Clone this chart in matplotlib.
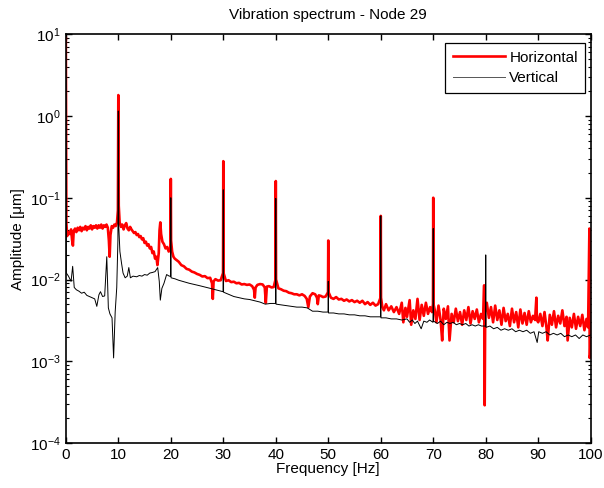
import numpy as np
import matplotlib
matplotlib.use("Agg")
from matplotlib import pyplot as plt
from matplotlib.ticker import LogLocator, NullFormatter

# Horizontal direction spectrum (frequency [Hz], amplitude [um])
h_freq = [0.0, 0.1, 0.25, 0.5, 0.75, 1.0, 1.2, 1.35, 1.5, 1.75, 2.0, 2.25, 2.5, 2.75, 3.0,
          3.25, 3.5, 3.75, 4.0, 4.25, 4.5, 4.75, 5.0, 5.25, 5.5, 5.75, 6.0, 6.25, 6.5,
          6.75, 7.0, 7.25, 7.5, 7.75, 8.0, 8.2, 8.35, 8.5, 8.75, 9.0, 9.25, 9.5, 9.75, 9.92,
          10.0, 10.08, 10.25, 10.5, 10.75, 11.0, 11.25, 11.5, 11.75, 12.0, 12.25, 12.5, 12.75, 13.0,
          13.25, 13.5, 13.75, 14.0, 14.25, 14.5, 14.75, 15.0, 15.25, 15.5, 15.75, 16.0, 16.25, 16.5,
          16.75, 17.0, 17.25, 17.45, 17.7, 17.85, 18.0, 18.15, 18.4, 18.7, 19.0, 19.3, 19.6, 19.85,
          19.95, 20.0, 20.05, 20.25, 20.5, 20.75, 21.0, 21.5, 22.0, 22.5, 23.0, 23.5, 24.0, 24.5,
          25.0, 25.5, 26.0, 26.5, 27.0, 27.5, 27.85, 28.0, 28.15, 28.5, 29.0, 29.5, 29.95, 30.0, 30.05,
          30.5, 31.0, 31.5, 32.0, 32.5, 33.0, 33.5, 34.0, 34.5, 35.0, 35.5, 35.85, 36.0, 36.15, 36.5,
          37.0, 37.5, 37.9, 38.1, 38.3, 38.7, 39.2, 39.6, 39.95, 40.0, 40.05, 40.5, 41.0, 41.5,
          42.0, 42.5, 43.0, 43.5, 44.0, 44.5, 45.0, 45.5, 45.9, 46.2, 46.5, 47.0, 47.5, 47.85, 48.0, 48.2,
          48.6, 49.0, 49.5, 49.95, 50.0, 50.05, 50.5, 51.0, 51.5, 52.0, 52.5, 53.0, 53.5, 54.0,
          54.5, 55.0, 55.5, 56.0, 56.5, 57.0, 57.5, 58.0, 58.5, 59.0, 59.5, 59.95, 60.0, 60.05,
          60.3, 60.6, 61.0, 61.5, 62.0, 62.5, 63.0, 63.5, 64.0, 64.3, 64.7, 65.0, 65.5, 65.8,
          66.2, 66.6, 67.0, 67.4, 67.8, 68.2, 68.6, 69.0, 69.4, 69.75, 69.95, 70.0, 70.05, 70.3,
          70.6, 71.0, 71.4, 71.7, 72.0, 72.4, 72.8, 73.1, 73.5, 73.9, 74.3, 74.7, 75.1, 75.5,
          75.9, 76.3, 76.7, 77.1, 77.5, 77.9, 78.3, 78.7, 79.1, 79.5, 79.7, 79.8, 79.9, 80.2,
          80.6, 81.0, 81.4, 81.8, 82.2, 82.6, 83.0, 83.4, 83.8, 84.2, 84.6, 85.0, 85.4, 85.8,
          86.2, 86.6, 87.0, 87.4, 87.8, 88.2, 88.6, 89.0, 89.4, 89.65, 89.75, 90.0, 90.4, 90.8,
          91.2, 91.6, 91.8, 92.2, 92.6, 93.0, 93.4, 93.8, 94.2, 94.6, 95.0, 95.4, 95.6, 96.0,
          96.4, 96.8, 97.2, 97.6, 98.0, 98.4, 98.8, 99.2, 99.5, 99.75, 99.8, 99.9, 100.0]
h_amp = [9.0, 0.05, 0.034, 0.038, 0.036, 0.041, 0.030, 0.026, 0.039, 0.042, 0.038, 0.043, 0.040, 0.044, 0.039,
         0.043, 0.041, 0.045, 0.040, 0.044, 0.042, 0.046, 0.041, 0.045, 0.043, 0.046, 0.042, 0.046, 0.043,
         0.047, 0.042, 0.046, 0.044, 0.047, 0.043, 0.030, 0.019, 0.035, 0.045, 0.043, 0.047, 0.045, 0.050, 0.07,
         1.8, 0.08, 0.050, 0.044, 0.047, 0.041, 0.046, 0.049, 0.042, 0.040, 0.044, 0.041, 0.039, 0.037,
         0.038, 0.035, 0.036, 0.033, 0.034, 0.031, 0.032, 0.028, 0.029, 0.026, 0.027, 0.024, 0.025, 0.021,
         0.022, 0.018, 0.019, 0.015, 0.021, 0.040, 0.050, 0.036, 0.029, 0.027, 0.024, 0.025, 0.022, 0.023,
         0.03, 0.17, 0.03, 0.022, 0.019, 0.018, 0.0175, 0.0165, 0.015, 0.0145, 0.0135, 0.0132, 0.0125, 0.0122,
         0.0117, 0.0114, 0.0109, 0.0110, 0.0104, 0.0105, 0.0090, 0.0058, 0.0095, 0.0101, 0.0097, 0.0098, 0.012, 0.28, 0.012,
         0.0096, 0.0098, 0.0093, 0.0094, 0.0090, 0.0091, 0.0087, 0.0088, 0.0086, 0.0087, 0.0083, 0.0075, 0.0060, 0.0080, 0.0086,
         0.0088, 0.0087, 0.0080, 0.0052, 0.0082, 0.0083, 0.0080, 0.0081, 0.010, 0.16, 0.010, 0.0078, 0.0076, 0.0073,
         0.0072, 0.0069, 0.0068, 0.0066, 0.0066, 0.0064, 0.0066, 0.0063, 0.0058, 0.0046, 0.0062, 0.0068, 0.0066, 0.0060, 0.0050, 0.0064,
         0.0063, 0.0061, 0.0062, 0.007, 0.030, 0.007, 0.0060, 0.0058, 0.0061, 0.0057, 0.0058, 0.0055, 0.0057, 0.0054,
         0.0056, 0.0053, 0.0055, 0.0052, 0.0055, 0.0050, 0.0053, 0.0049, 0.0052, 0.0048, 0.0050, 0.006, 0.060, 0.006,
         0.0046, 0.0042, 0.0050, 0.0042, 0.0047, 0.0040, 0.0046, 0.0038, 0.0052, 0.0030, 0.0045, 0.0035, 0.0056, 0.0028,
         0.0042, 0.0033, 0.0058, 0.0032, 0.0049, 0.0036, 0.0052, 0.0038, 0.0046, 0.0040, 0.005, 0.10, 0.005, 0.0042,
         0.0030, 0.0048, 0.0032, 0.0018, 0.0044, 0.0033, 0.0047, 0.0018, 0.0038, 0.0030, 0.0044, 0.0031, 0.0040, 0.0028,
         0.0042, 0.0032, 0.0046, 0.0029, 0.0041, 0.0033, 0.0043, 0.0030, 0.0038, 0.0033, 0.0085, 0.00029, 0.0040, 0.0052,
         0.0034, 0.0046, 0.0030, 0.0048, 0.0032, 0.0042, 0.0028, 0.0045, 0.0031, 0.0038, 0.0027, 0.0044, 0.0030, 0.0040,
         0.0026, 0.0043, 0.0029, 0.0039, 0.0028, 0.0041, 0.0030, 0.0036, 0.0032, 0.0060, 0.0032, 0.0030, 0.0038, 0.0027,
         0.0040, 0.0025, 0.0018, 0.0037, 0.0028, 0.0041, 0.0026, 0.0036, 0.0029, 0.0042, 0.0027, 0.0035, 0.0018, 0.0034,
         0.0026, 0.0038, 0.0025, 0.0035, 0.0027, 0.0037, 0.0024, 0.0033, 0.0026, 0.042, 0.0011, 0.0012, 0.0028]

# Vertical direction spectrum
v_freq = [0.0, 0.1, 0.5, 1.0, 1.3, 1.6, 2.0, 2.5, 3.0, 3.5, 4.0, 4.5, 5.0, 5.5,
          5.9, 6.3, 6.6, 7.0, 7.4, 7.8, 8.1, 8.4, 8.8, 9.1, 9.4, 9.7, 9.92, 10.0, 10.08,
          10.3, 10.6, 10.9, 11.3, 11.7, 12.0, 12.3, 12.8, 13.5, 14.0, 14.5, 15.0, 15.5, 16.0,
          16.5, 17.0, 17.5, 17.8, 18.0, 18.3, 18.7, 19.2, 19.7, 19.95, 20.0, 20.05, 20.3, 20.8,
          21.5, 22.5, 23.5, 24.5, 25.5, 26.5, 27.5, 28.5, 29.5, 29.95, 30.0, 30.05, 31.0, 32.0,
          33.0, 34.0, 35.0, 36.0, 37.0, 38.0, 39.0, 39.95, 40.0, 40.05, 41.0, 42.0, 43.0, 44.0,
          45.0, 46.0, 47.0, 48.0, 49.0, 49.95, 50.0, 50.05, 51.0, 52.0, 53.0, 54.0, 55.0, 56.0,
          57.0, 58.0, 59.0, 59.95, 60.0, 60.05, 61.0, 62.0, 63.0, 64.0, 65.0, 65.5, 66.0, 66.5,
          67.0, 67.7, 68.2, 68.8, 69.3, 69.95, 70.0, 70.05, 70.8, 71.4, 72.0, 72.6, 73.2, 73.8,
          74.4, 75.0, 75.6, 76.2, 76.8, 77.4, 78.0, 78.6, 79.2, 79.95, 80.0, 80.05, 80.8, 81.5,
          82.2, 82.9, 83.6, 84.3, 85.0, 85.7, 86.4, 87.1, 87.8, 88.5, 89.2, 89.8, 90.1, 90.8,
          91.5, 92.2, 92.9, 93.6, 94.3, 95.0, 95.7, 96.4, 97.1, 97.8, 98.5, 99.2, 100.0]
v_amp = [3.0, 0.012, 0.011, 0.0095, 0.0145, 0.008, 0.0075, 0.0072, 0.0068, 0.0070, 0.0064, 0.0062, 0.0060, 0.0058,
         0.0047, 0.0065, 0.0071, 0.0062, 0.0063, 0.019, 0.0045, 0.0038, 0.0034, 0.0011, 0.0040, 0.008, 0.03, 1.15, 0.045,
         0.022, 0.016, 0.012, 0.0105, 0.011, 0.014, 0.0105, 0.011, 0.0108, 0.0112, 0.0110, 0.0115, 0.0113, 0.0120,
         0.0122, 0.0125, 0.014, 0.0095, 0.0056, 0.0078, 0.009, 0.0115, 0.011, 0.011, 0.10, 0.0105, 0.0104, 0.0102,
         0.0098, 0.0094, 0.0090, 0.0087, 0.0084, 0.0081, 0.0078, 0.0075, 0.0072, 0.0071, 0.125, 0.0070, 0.0066, 0.0062,
         0.0060, 0.0058, 0.0057, 0.0055, 0.0053, 0.0050, 0.0051, 0.0051, 0.098, 0.0050, 0.0049, 0.0048, 0.0047, 0.0046,
         0.0046, 0.0045, 0.0041, 0.0041, 0.0040, 0.0040, 0.0095, 0.0039, 0.0039, 0.0038, 0.0038, 0.0037, 0.0037, 0.0036,
         0.0036, 0.0035, 0.0035, 0.0035, 0.060, 0.0034, 0.0034, 0.0033, 0.0033, 0.0032, 0.0033, 0.0030, 0.0032, 0.0029,
         0.0031, 0.0025, 0.0031, 0.0030, 0.0032, 0.0030, 0.042, 0.0031, 0.0029, 0.0031, 0.0028, 0.0030, 0.0029, 0.0030,
         0.0028, 0.0029, 0.0028, 0.0029, 0.0027, 0.0028, 0.0027, 0.0028, 0.0027, 0.0027, 0.020, 0.0026, 0.0027, 0.0025,
         0.0026, 0.0024, 0.0025, 0.0024, 0.0025, 0.0023, 0.0024, 0.0023, 0.0024, 0.0022, 0.0023, 0.0017, 0.0023, 0.0022,
         0.0023, 0.0021, 0.0022, 0.0021, 0.0022, 0.0020, 0.0021, 0.0020, 0.0021, 0.0019, 0.0021, 0.0020, 0.0021]

x_ticks = [0, 10, 20, 30, 40, 50, 60, 70, 80, 90, 100]

plt.rcParams['font.family'] = ['Liberation Sans', 'DejaVu Sans']
plt.rcParams['mathtext.default'] = 'regular'

fig = plt.figure(figsize=(6.04, 4.88), dpi=100)
ax = fig.add_axes([0.109, 0.092, 0.869, 0.838])

ax.semilogy(h_freq, h_amp, color='#ff0000', lw=1.9, label='Horizontal')
ax.semilogy(v_freq, v_amp, color='black', lw=0.7, label='Vertical')

ax.set_xlim(0, 100)
ax.set_ylim(1e-4, 1e1)
ax.set_xticks(x_ticks)
ax.yaxis.set_major_locator(LogLocator(base=10, numticks=10))
ax.yaxis.set_minor_locator(LogLocator(base=10, subs=np.arange(2, 10), numticks=10))
ax.yaxis.set_minor_formatter(NullFormatter())
ax.tick_params(which='both', direction='in', top=True, right=True, labelsize=11)
ax.tick_params(which='major', length=4, width=1)
ax.tick_params(which='minor', length=2, width=0.8)
for s in ax.spines.values():
    s.set_linewidth(1.2)

ax.set_title('Vibration spectrum - Node 29', fontsize=11, pad=11)
ax.set_xlabel('Frequency [Hz]', fontsize=11, labelpad=0)
ax.set_ylabel('Amplitude [\u03bcm]', fontsize=11, labelpad=4)

leg = ax.legend(loc='upper right', bbox_to_anchor=(0.99, 0.978), borderaxespad=0,
                fancybox=False, framealpha=1, edgecolor='black', fontsize=11,
                handlelength=3.4, handletextpad=0.3, borderpad=0.5, labelspacing=0.4)
leg.get_frame().set_linewidth(0.9)
leg.get_lines()[1].set_color('#555555')

fig.savefig('out.png', dpi=100)
